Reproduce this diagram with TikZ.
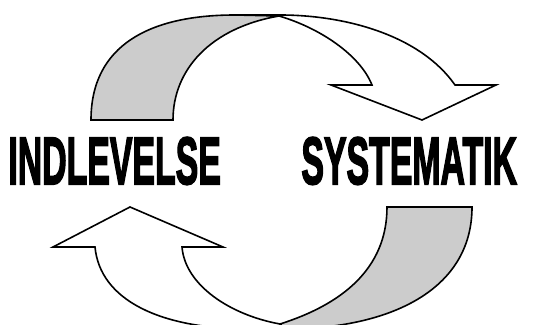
\documentclass[tikz,border=0pt]{standalone}
\usepackage{fontspec}
\setmainfont{Liberation Sans}[BoldFeatures={FakeBold=3}]
\definecolor{band}{RGB}{204,204,204}
\tikzset{
  edge/.style={draw=black, line width=0.8pt, line join=miter},
  backface/.style={fill=band, draw=black, line width=0.8pt, line join=miter},
  word/.style={inner sep=0pt, anchor=base west}
}
\newcommand{\condword}[1]{\scalebox{0.505}[1]{\fontsize{33.5}{40}\selectfont\bfseries #1}}
\begin{document}
\begin{tikzpicture}[x=0.5pt,y=-0.5pt]
\useasboundingbox (0,0) rectangle (545,325);
\clip (0,0) rectangle (545,325);
% top arrow: grey back face
\path[backface] (91,120) .. controls (91,45) and (150,15) .. (235,15) -- (279,16)
  .. controls (210,28) and (173,70) .. (173,120) -- cycle;
% top arrow: white front face with head
\path[edge] (235,15) -- (280,15) .. controls (345,15) and (420,35) .. (455,85)
  -- (496,85) -- (422,120) -- (331,85) -- (372,85)
  .. controls (360,55) and (320,28) .. (279,16);
% bottom arrow: grey back face
\path[backface] (387,207) -- (472,207) .. controls (472,290) and (390,329) .. (285,329)
  -- (280,324) .. controls (340,305) and (387,270) .. (387,207) -- cycle;
% bottom arrow: white front face with head
\path[edge] (285,329) -- (250,329) .. controls (160,329) and (100,300) .. (95,247)
  -- (53,247) -- (130,207) -- (223,247) -- (182,247)
  .. controls (185,285) and (230,315) .. (280,324);
% words
\node[word] (indlevelse) at (8,184) {\condword{INDLEVELSE}};
\node[word] (systematik) at (301,184) {\condword{SYSTEMATIK}};
\end{tikzpicture}
\end{document}
